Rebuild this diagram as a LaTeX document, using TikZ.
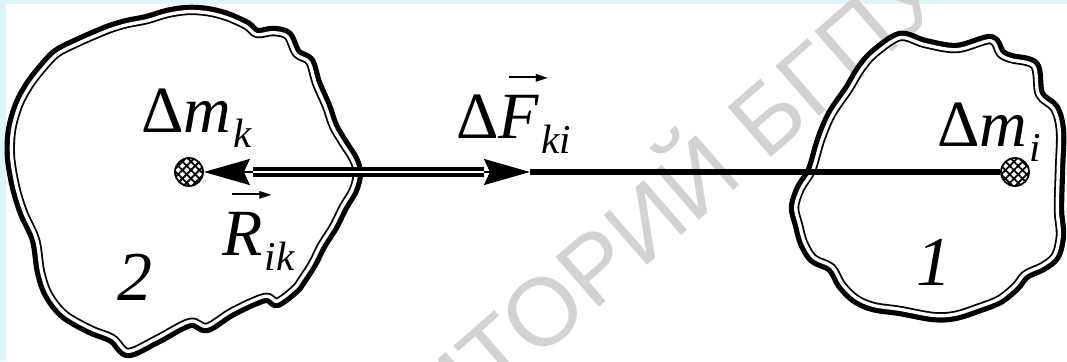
\documentclass[tikz,border=0pt]{standalone}
\usepackage{fontspec}
\setmainfont{Liberation Serif}
\newfontfamily\wmfont{Liberation Sans}
\newfontfamily\symfont{DejaVu Sans}
\usetikzlibrary{positioning,arrows.meta,patterns.meta}
\definecolor{frameCyan}{HTML}{DDF4F8}
\definecolor{wmGray}{HTML}{D2D2D2}

% subscript and vector helpers
\newcommand{\sbs}[1]{\kern1pt\raisebox{-7.5pt}{\fontsize{20.5}{22}\selectfont\itshape #1}}
\newcommand{\arrbar}{\rule[2.2pt]{15pt}{0.9pt}\kern-1.5pt{\symfont\fontsize{8}{8}\selectfont ►}}
\newcommand{\vecl}[1]{\makebox[0pt][l]{\hspace{5pt}\raisebox{28pt}{\arrbar}}\textit{#1}}

% outlines of the two bodies (pixel grid)
\def\blobTwo{plot[smooth cycle, tension=0.55] coordinates {
    (110,28) (127,23) (147,19) (167,13) (187,10) (207,11) (227,16) (247,25)
    (257,33) (273,31) (288,35) (297,53) (310,61) (317,83) (327,106) (334,126)
    (344,143) (354,159) (358,173) (354,190) (344,207) (334,227) (322,246)
    (313,264) (302,281) (295,290) (277,303) (265,298) (233,312) (207,328)
    (190,323) (157,340) (128,353) (112,339) (90,330) (64,315) (48,295)
    (40,272) (35,240) (23,213) (15,187) (10,157) (11,130) (18,105) (28,86)
    (40,70) (56,53) (75,43) (93,35)}}
\def\blobOne{plot[smooth cycle, tension=0.55] coordinates {
    (900,36) (925,43) (957,48) (991,39) (1001,53) (1011,58) (1035,65)
    (1040,94) (1055,108) (1061,131) (1060,170) (1059,210) (1061,235)
    (1056,256) (1043,267) (1026,275) (1016,287) (1000,300) (980,308)
    (955,316) (933,317) (900,311) (873,307) (855,299) (841,285) (831,268)
    (813,259) (803,243) (798,225) (794,207) (800,188) (811,170) (820,140)
    (831,114) (848,89) (860,69) (874,53)}}

\begin{document}
\begin{tikzpicture}[x=0.5pt, y=-0.5pt,
    blobLine/.style={line width=5.2pt, draw=black, line join=round},
    blobGap/.style={line width=3.4pt, draw=white, line join=round},
    dblLine/.style={draw=black, line width=1.6pt, double=white, double distance=1.4pt},
    forceLine/.style={draw=black, line width=2.6pt},
    tipArrow/.style={draw=black, line width=1pt, -{Stealth[length=23pt, width=13pt, inset=3pt]}},
    massPoint/.style={circle, draw=black, line width=0.9pt, minimum size=14pt, inner sep=0pt,
        preaction={pattern={Lines[angle=45, distance=3pt, line width=0.9pt]}},
        pattern={Lines[angle=-45, distance=3pt, line width=0.9pt]}},
    lblText/.style={font=\fontsize{33}{36}\selectfont, inner sep=0pt},
    numText/.style={font=\fontsize{35}{38}\selectfont\itshape, inner sep=0pt},
    wmText/.style={font=\wmfont\fontsize{48}{52}\selectfont, text=wmGray, inner sep=0pt}
]
    \useasboundingbox (0,0) rectangle (1067,361);
    \clip (0,0) rectangle (1067,361);
    \fill[frameCyan] (0,0) rectangle (1067,361);
    \fill[white] (6,4) rectangle (1067,361);

    \node[wmText, rotate=41, anchor=mid east] (wm) at (948,-2) {РЕПОЗИТОРИЙ БГПУ};

    % bodies
    \draw[blobLine] \blobTwo;
    \begin{scope}
        \clip \blobTwo;
        \draw[blobGap] \blobTwo;
    \end{scope}
    \draw[blobLine] \blobOne;
    \begin{scope}
        \clip \blobOne;
        \draw[blobGap] \blobOne;
    \end{scope}

    % mass elements and force line
    \node[massPoint] (mk) at (189,172) {};
    \node[massPoint] (mi) at (1015,172) {};
    \coordinate (kb) at (253,172);
    \coordinate (fb) at (484,172);
    \coordinate (ft) at (530,172);

    \draw[dblLine] (kb) -- (fb);
    \draw[tipArrow] (kb) -- (mk);
    \draw[tipArrow] (fb) -- (ft);
    \draw[forceLine] (ft) -- (mi);

    % labels
    \node[lblText, anchor=base west] (lmk) at (141,132) {Δ\textit{m}\sbs{k}};
    \node[lblText, anchor=base west] (lmi) at (937,146) {Δ\textit{m}\sbs{i}};
    \node[lblText, anchor=base west] (lf) at (456,138) {Δ\vecl{F}\sbs{ki}};
    \node[lblText, anchor=base west] (lr) at (222,255) {\vecl{R}\sbs{ik}};
    \node[numText, anchor=base west] (n2) at (117,300) {2};
    \node[numText, anchor=base west] (n1) at (916,285) {1};
\end{tikzpicture}
\end{document}
